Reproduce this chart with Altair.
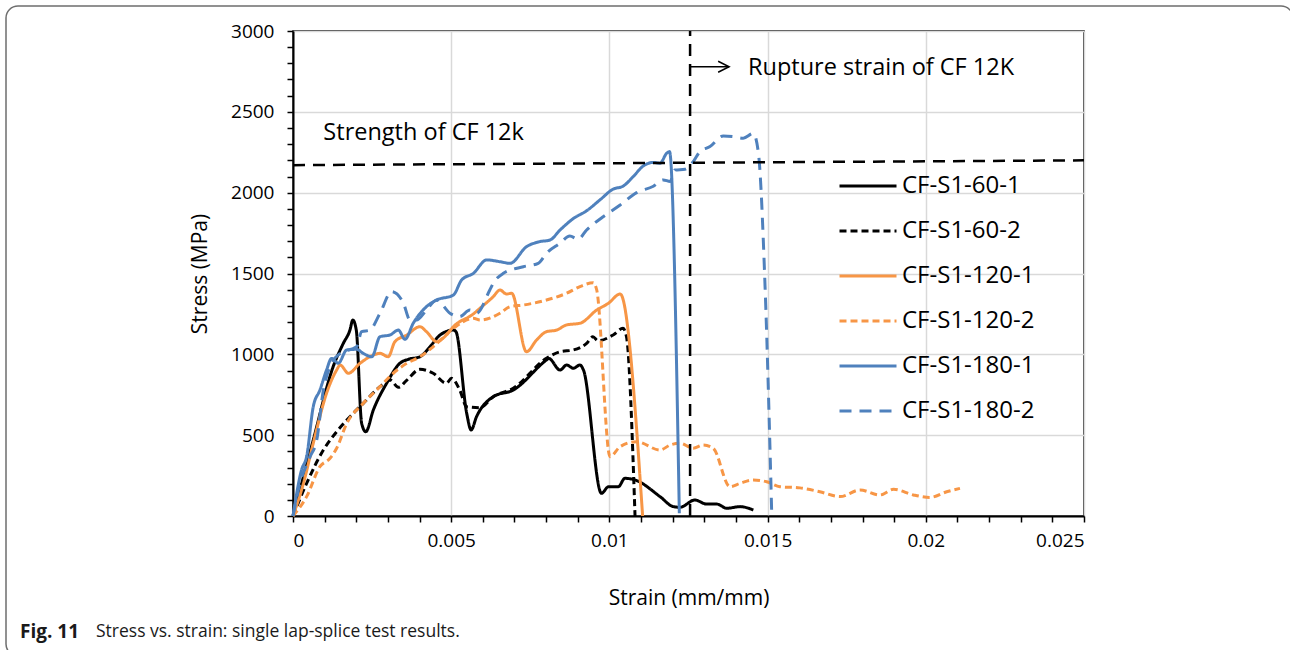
import altair as alt
import pandas as pd

# ---------------- data ----------------
series_names = ["CF-S1-60-1", "CF-S1-60-2", "CF-S1-120-1", "CF-S1-120-2", "CF-S1-180-1", "CF-S1-180-2"]
series_colors = ["#000000", "#000000", "#F79646", "#F79646", "#4F81BD", "#4F81BD"]
series_dashes = [[1, 0], [7, 4], [1, 0], [7, 4], [1, 0], [12, 8]]

s60_1_strain = [0, 0.00064, 0.00127, 0.00159, 0.0018, 0.00189, 0.002, 0.00217, 0.0023, 0.00254, 0.00296,
                0.00338, 0.00364, 0.00401, 0.00433, 0.00465, 0.00507, 0.00515, 0.00549, 0.00563, 0.0058,
                0.00633, 0.00696, 0.00801, 0.00808, 0.00844, 0.00865, 0.00886, 0.00907, 0.00918, 0.00975,
                0.00997, 0.01028, 0.01049, 0.01081, 0.0116, 0.01202, 0.01223, 0.0127, 0.01307, 0.01339,
                0.01371, 0.01413, 0.01455]
s60_1_stress = [0, 470, 924, 1068, 1150, 1212, 1150, 573, 521, 656, 821,
                945, 969, 985, 1047, 1120, 1150, 1140, 635, 532, 614,
                738, 779, 965, 975, 903, 934, 914, 934, 903, 140,
                181, 181, 233, 223, 120, 58, 54, 99, 74, 74,
                48, 58, 37]

s60_2_strain = [0, 0.00043, 0.00096, 0.00138, 0.0018, 0.00222, 0.00275, 0.00307, 0.00333, 0.0036, 0.00401,
                0.00443, 0.00485, 0.00501, 0.00527, 0.00549, 0.00591, 0.00633, 0.00696, 0.00801, 0.00844,
                0.00886, 0.00928, 0.00948, 0.00964, 0.01012, 0.01043, 0.01054, 0.01081]
s60_2_stress = [0, 202, 408, 521, 614, 697, 800, 841, 796, 841, 907,
                883, 821, 852, 779, 676, 670, 738, 790, 975, 1016,
                1027, 1068, 1109, 1084, 1120, 1161, 1109, 0]

s120_1_strain = [0, 0.00033, 0.00064, 0.00106, 0.00138, 0.00149, 0.00175, 0.00212, 0.00243, 0.00275, 0.00301,
                 0.00322, 0.0036, 0.00401, 0.00422, 0.00454, 0.00485, 0.00507, 0.0057, 0.00591, 0.00633,
                 0.00654, 0.00675, 0.00691, 0.00738, 0.0077, 0.00801, 0.00833, 0.00865, 0.00907, 0.0096,
                 0.00997, 0.01034, 0.01105]
s120_1_stress = [0, 202, 450, 759, 903, 934, 883, 945, 985, 1006, 985,
                 1078, 1120, 1171, 1140, 1078, 1120, 1171, 1250, 1285, 1357,
                 1398, 1373, 1378, 1016, 1089, 1140, 1150, 1182, 1192, 1274,
                 1316, 1373, 0]

s120_2_strain = [0, 0.00043, 0.00085, 0.00117, 0.00138, 0.0017, 0.00222, 0.00275, 0.00317, 0.0036, 0.00401,
                 0.00443, 0.00507, 0.0057, 0.00591, 0.00654, 0.00686, 0.00728, 0.00801, 0.00865, 0.00907,
                 0.00949, 0.0096, 0.01002, 0.01034, 0.01086, 0.0116, 0.01192, 0.01223, 0.01265, 0.01296,
                 0.01328, 0.01381, 0.01413, 0.01455, 0.01497, 0.01539, 0.01602, 0.01665, 0.01729, 0.01792,
                 0.01855, 0.01898, 0.01961, 0.02013, 0.02066, 0.02108]
s120_2_stress = [0, 120, 305, 357, 419, 573, 697, 800, 883, 945, 985,
                 1047, 1161, 1223, 1212, 1254, 1295, 1305, 1336, 1378, 1419,
                 1443, 1398, 367, 429, 460, 408, 439, 450, 419, 439,
                 419, 181, 202, 223, 212, 181, 174, 150, 120, 161,
                 130, 165, 130, 115, 150, 171]

s180_1_strain = [0, 0.00027, 0.00043, 0.00064, 0.00085, 0.00106, 0.00122, 0.00143, 0.0017, 0.00201, 0.00222,
                 0.00249, 0.00275, 0.00307, 0.00333, 0.00354, 0.0038, 0.00422, 0.00454, 0.00507, 0.00533,
                 0.0057, 0.00612, 0.00654, 0.00686, 0.00738, 0.0078, 0.00812, 0.00844, 0.00886, 0.00928,
                 0.0097, 0.01012, 0.01043, 0.01075, 0.01107, 0.01139, 0.0116, 0.01181, 0.0119, 0.01221]
s180_1_stress = [0, 285, 367, 676, 779, 903, 975, 945, 1027, 1031, 1006,
                 985, 1109, 1120, 1150, 1093, 1192, 1295, 1336, 1367, 1460,
                 1501, 1584, 1573, 1563, 1666, 1697, 1707, 1769, 1840, 1888,
                 1955, 2022, 2040, 2099, 2165, 2187, 2182, 2244, 2254, 17]

s180_2_strain = [0, 0.00022, 0.00054, 0.00075, 0.00096, 0.00117, 0.00149, 0.00201, 0.00217, 0.00243, 0.00275,
                 0.00312, 0.00349, 0.0037, 0.0039, 0.00422, 0.00454, 0.00496, 0.00527, 0.00559, 0.0058,
                 0.00622, 0.00633, 0.00665, 0.00728, 0.00775, 0.00801, 0.00844, 0.00875, 0.00901, 0.00928,
                 0.0098, 0.01034, 0.01086, 0.01139, 0.0117, 0.01192, 0.01207, 0.01239, 0.01265, 0.01286,
                 0.01318, 0.0136, 0.01392, 0.01423, 0.01455, 0.01471, 0.01492, 0.01513]
s180_2_stress = [0, 202, 367, 470, 779, 924, 1006, 1047, 1140, 1150, 1254,
                 1388, 1316, 1212, 1212, 1274, 1336, 1254, 1233, 1274, 1254,
                 1398, 1440, 1501, 1542, 1563, 1625, 1687, 1732, 1712, 1769,
                 1851, 1924, 2000, 2040, 2079, 2069, 2140, 2145, 2192, 2254,
                 2285, 2351, 2347, 2337, 2367, 2244, 1419, 17]

# reference lines / annotations
strength_strain = [0, 0.025]
strength_stress = [2170, 2200]
rupture_strain = 0.01255
axis_stress_range = [0, 3000]
arrow_end_strain = 0.01378
arrow_head_strain = 0.01361
arrow_stress = 2779
rupture_label = "Rupture strain of CF 12K"
rupture_label_strain = 0.01438
rupture_label_stress = 2728
strength_label = "Strength of CF 12k"
strength_label_strain = 0.00096
strength_label_stress = 2326

x_tick_values = [round(i * 0.001, 3) for i in range(26)]
y_tick_values = list(range(0, 3001, 100))

caption_bold = "Fig. 11"
caption_text = "Stress vs. strain: single lap-splice test results."

FONT = "Open Sans"

# ---------------- build ----------------
all_strain = [s60_1_strain, s60_2_strain, s120_1_strain, s120_2_strain, s180_1_strain, s180_2_strain]
all_stress = [s60_1_stress, s60_2_stress, s120_1_stress, s120_2_stress, s180_1_stress, s180_2_stress]
frames = []
for name, xs, ys in zip(series_names, all_strain, all_stress):
    frames.append(pd.DataFrame({"series": name, "strain": xs, "stress": ys, "order": list(range(len(xs)))}))
df = pd.concat(frames, ignore_index=True)

x_major = "round(datum.value*1000) % 5 == 0"
y_major = "round(datum.value) % 500 == 0"

x_axis = alt.Axis(
    values=x_tick_values, format="~g", labelOverlap=False,
    labelExpr=f"{x_major} ? datum.label : ''",
    gridOpacity={"condition": {"test": x_major, "value": 1}, "value": 0},
    title="Strain (mm/mm)", titleX=395.5, titleY=82, titleBaseline="middle",
    labelPadding=9, tickSize=6,
)
y_axis = alt.Axis(
    values=y_tick_values, format="d", labelOverlap=False,
    labelExpr=f"{y_major} ? datum.label : ''",
    gridOpacity={"condition": {"test": y_major, "value": 1}, "value": 0},
    title="Stress (MPa)", titleX=-93, titleY=242.5, titleAngle=270,
    titleBaseline="middle", titleAlign="center",
    labelPadding=13, tickSize=6,
)
x_scale = alt.Scale(domain=[0, 0.025], nice=False, zero=False)
y_scale = alt.Scale(domain=[0, 3000], nice=False)


def X(field="strain:Q"):
    return alt.X(field, scale=x_scale, axis=x_axis)


def Y(field="stress:Q"):
    return alt.Y(field, scale=y_scale, axis=y_axis)


lines = alt.Chart(df).mark_line(strokeWidth=3, interpolate="monotone").encode(
    x=X(),
    y=Y(),
    color=alt.Color("series:N", scale=alt.Scale(domain=series_names, range=series_colors),
                    legend=alt.Legend(title=None)),
    strokeDash=alt.StrokeDash("series:N", scale=alt.Scale(domain=series_names, range=series_dashes),
                              legend=alt.Legend(title=None)),
    order=alt.Order("order:Q"),
)

strength_line = alt.Chart(pd.DataFrame({"strain": strength_strain, "stress": strength_stress})).mark_line(
    color="black", strokeWidth=2.5, strokeDash=[12, 8]
).encode(x=X(), y=Y())

rupture_line = alt.Chart(pd.DataFrame({"strain": [rupture_strain, rupture_strain],
                                       "stress": axis_stress_range})).mark_line(
    color="black", strokeWidth=2.5, strokeDash=[12, 8]
).encode(x=X(), y=Y())

arrow_shaft = alt.Chart(pd.DataFrame({"strain": [rupture_strain, arrow_end_strain],
                                      "stress": [arrow_stress, arrow_stress]})).mark_line(
    color="black", strokeWidth=1.5
).encode(x=X(), y=Y())

arrow_head = alt.Chart(pd.DataFrame({"strain": [arrow_head_strain], "stress": [arrow_stress]})).mark_point(
    shape="M -1 -1 L 1 0 L -1 1", filled=False, color="black", strokeWidth=1.5, size=120, opacity=1
).encode(x=X(), y=Y())

rupture_text = alt.Chart(pd.DataFrame({"strain": [rupture_label_strain], "stress": [rupture_label_stress],
                                       "t": [rupture_label]})).mark_text(
    align="left", baseline="alphabetic", fontSize=23.5, font=FONT, color="black"
).encode(x=X(), y=Y(), text="t:N")

strength_text = alt.Chart(pd.DataFrame({"strain": [strength_label_strain], "stress": [strength_label_stress],
                                        "t": [strength_label]})).mark_text(
    align="left", baseline="alphabetic", fontSize=23.5, font=FONT, color="black"
).encode(x=X(), y=Y(), text="t:N")

frame = alt.Chart(pd.DataFrame({"a": [0]})).mark_rect(
    fillOpacity=0, stroke="#6e6e6e", strokeWidth=1.5, cornerRadius=12
).encode(x=alt.value(-287), x2=alt.value(1000), y=alt.value(-25), y2=alt.value(625))

cap1 = alt.Chart(pd.DataFrame({"t": [caption_bold]})).mark_text(
    align="left", baseline="middle", fontSize=19, fontWeight="bold", font=FONT, color="#1a1a1a"
).encode(x=alt.value(-273), y=alt.value(601), text="t:N")
cap2 = alt.Chart(pd.DataFrame({"t": [caption_text]})).mark_text(
    align="left", baseline="middle", fontSize=17.5, font=FONT, color="#1a1a1a"
).encode(x=alt.value(-197), y=alt.value(601), text="t:N")

chart = alt.layer(
    frame, lines, strength_line, rupture_line, arrow_shaft, arrow_head, rupture_text, strength_text, cap1, cap2
).properties(
    width=791, height=485,
    autosize=alt.AutoSizeParams(type="none"),
    padding={"left": 293, "top": 31, "right": 206, "bottom": 134},
).configure(
    font=FONT,
).configure_view(
    stroke="black", strokeWidth=1.5,
).configure_axis(
    labelFont=FONT, labelFontSize=19, labelColor="black",
    titleFont=FONT, titleFontSize=21, titleFontWeight="normal", titleColor="black",
    domainColor="black", domainWidth=2, tickColor="black", tickWidth=1.5,
    gridColor="#d9d9d9", gridWidth=1.5,
).configure_legend(
    orient="none", legendX=545, legendY=132.5,
    symbolType="stroke", symbolSize=3249, symbolStrokeWidth=3,
    labelFont=FONT, labelFontSize=24, labelColor="black", labelOffset=4,
    clipHeight=45, rowPadding=0, padding=0, labelLimit=300,
)

chart.save("out.html", embed_options={"renderer": "svg", "actions": False})
